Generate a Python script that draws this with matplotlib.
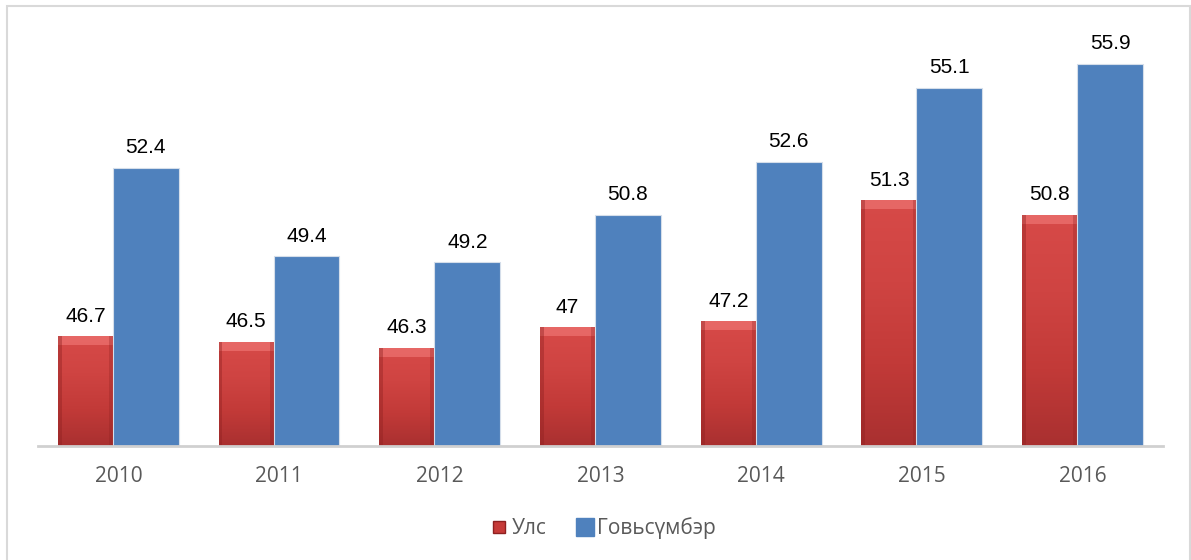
import matplotlib
matplotlib.use("Agg")
import matplotlib.pyplot as plt
import numpy as np
from matplotlib.patches import Rectangle
from matplotlib.lines import Line2D

years = ["2010", "2011", "2012", "2013", "2014", "2015", "2016"]
uls = [46.7, 46.5, 46.3, 47, 47.2, 51.3, 50.8]
govi = [52.4, 49.4, 49.2, 50.8, 52.6, 55.1, 55.9]
series_names = ["Улс", "Говьсүмбэр"]

W, H = 1191, 560
fig = plt.figure(figsize=(W / 100, H / 100), dpi=100)
ax = fig.add_axes([38 / W, 1 - 445.6 / H, (1163 - 38) / W, (445.6 - 31.5) / H])
ymin, ymax = 43, 57
ax.set_xlim(-0.5, 6.5)
ax.set_ylim(ymin, ymax)

x = np.arange(len(years))
red_w, blue_w = 0.342, 0.41
red_off, blue_off = -0.205, 0.171

red_bars = ax.bar(x + red_off, [v - ymin for v in uls], width=red_w, bottom=ymin,
                  color="#C63A38", edgecolor="none", zorder=2)
grad = np.linspace(0, 1, 256).reshape(-1, 1)
cmap = matplotlib.colors.LinearSegmentedColormap.from_list(
    "r", ["#A93030", "#C23A38", "#CF4442", "#D74A48"])
for b in red_bars:
    x0, y0 = b.get_x(), b.get_y()
    w, h = b.get_width(), b.get_height()
    im = ax.imshow(grad, extent=[x0, x0 + w, y0, y0 + h], origin="lower",
                   cmap=cmap, aspect="auto", zorder=2)
    im.set_clip_path(b)
    ax.add_patch(Rectangle((x0, y0 + h - 0.3), w, 0.3, facecolor="#EE7472",
                           edgecolor="none", zorder=3, alpha=0.7))
    ax.add_patch(Rectangle((x0, y0), w * 0.07, h, facecolor="#8E2020",
                           edgecolor="none", zorder=3, alpha=0.4))
    ax.add_patch(Rectangle((x0 + w * 0.93, y0), w * 0.07, h, facecolor="#8E2020",
                           edgecolor="none", zorder=3, alpha=0.3))

blue_bars = ax.bar(x + blue_off, [v - ymin for v in govi], width=blue_w, bottom=ymin,
                   color="#4F81BD", edgecolor="#D5DEEA", linewidth=0.8, zorder=2)

for xi, v in zip(x, uls):
    ax.annotate(f"{v:g}", (xi + red_off, v), xytext=(0, 10.5), textcoords="offset points",
                ha="center", va="baseline", fontsize=15, family="Liberation Sans",
                color="#000000")
for xi, v in zip(x, govi):
    ax.annotate(f"{v:g}", (xi + blue_off, v), xytext=(0, 10.5), textcoords="offset points",
                ha="center", va="baseline", fontsize=15, family="Liberation Sans",
                color="#000000")

for s in ["top", "right", "left"]:
    ax.spines[s].set_visible(False)
ax.spines["bottom"].set_color("#D0D0D0")
ax.spines["bottom"].set_linewidth(2)
ax.spines["bottom"].set_zorder(4)
ax.set_yticks([])
ax.set_xticks(x)
ax.set_xticklabels(years, fontsize=15, color="#595959", family="Open Sans")
ax.tick_params(axis="x", length=0, pad=15)

handles = [
    Line2D([], [], marker="s", linestyle="none", markersize=9,
           markerfacecolor="#C63A38", markeredgecolor="#8E2020"),
    Line2D([], [], marker="s", linestyle="none", markersize=13,
           markerfacecolor="#4F81BD", markeredgecolor="#4F81BD"),
]
leg = fig.legend(handles, series_names, loc="center", bbox_to_anchor=(604 / W, 1 - 528 / H),
                 ncol=2, frameon=False, handlelength=0.7, handletextpad=0.25,
                 columnspacing=1.5, prop={"family": "Open Sans", "size": 15})
for t in leg.get_texts():
    t.set_color("#595959")

fig.patches.append(Rectangle((7 / W, -0.05), (1190 - 7) / W, 1.05 - 6 / H,
                             transform=fig.transFigure, fill=False,
                             edgecolor="#D9D9D9", linewidth=1.5))

fig.savefig("out.png", dpi=100)
